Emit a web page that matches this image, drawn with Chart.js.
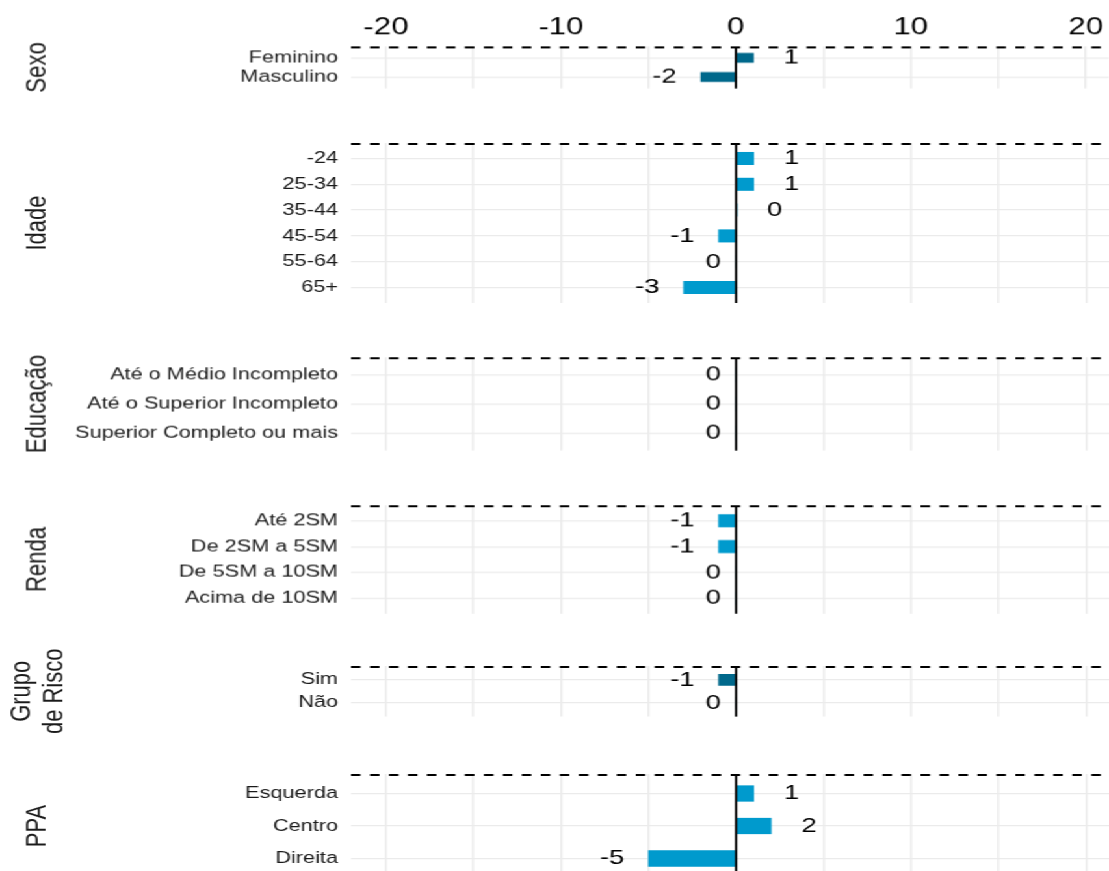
<!DOCTYPE html>
<html>
<head>
<meta charset="utf-8">
<script src="https://cdn.jsdelivr.net/npm/chart.js@4.4.1/dist/chart.umd.min.js"></script>
<style>
  html, body { margin: 0; padding: 0; background: #fff; overflow: hidden; }
  /* the reference is stretched sideways, so draw narrow and scale */
  #wrap { position: relative; width: 853px; height: 871px; transform: scaleX(1.3001); transform-origin: 0 0; }
  .panel { position: absolute; left: 0; width: 853px; }
</style>
</head>
<body>
<div id="wrap"></div>
<script>
const xTicks = [-20, -15, -10, -5, 0, 5, 10, 15, 20];

const sexoCats = ['Feminino', 'Masculino'];
const sexoVals = [1, -2];

const idadeCats = ['-24', '25-34', '35-44', '45-54', '55-64', '65+'];
const idadeVals = [1, 1, 0.04, -1, 0, -3];

const educCats = ['Até o Médio Incompleto', 'Até o Superior Incompleto', 'Superior Completo ou mais'];
const educVals = [0, 0, 0];

const rendaCats = ['Até 2SM', 'De 2SM a 5SM', 'De 5SM a 10SM', 'Acima de 10SM'];
const rendaVals = [-1, -1, 0, 0];

const riscoCats = ['Sim', 'Não'];
const riscoVals = [-1, 0];

const ppaCats = ['Esquerda', 'Centro', 'Direita'];
const ppaVals = [1, 2, -5];

const dark = '#00688B';   // deepskyblue4
const light = '#009ACD';  // deepskyblue3

const groups = [
  { title: ['Sexo'], cats: sexoCats, vals: sexoVals, color: dark },
  { title: ['Idade'], cats: idadeCats, vals: idadeVals, color: light },
  { title: ['Educação'], cats: educCats, vals: educVals, color: light },
  { title: ['Renda'], cats: rendaCats, vals: rendaVals, color: light },
  { title: ['Grupo', 'de Risco'], cats: riscoCats, vals: riscoVals, color: dark },
  { title: ['PPA'], cats: ppaCats, vals: ppaVals, color: light }
];

// panel top (px) and row spacing (px)
const layout = [
  { top: 46, step: 19 },
  { top: 143, step: 25.8 },
  { top: 357, step: 29 },
  { top: 505, step: 25.7 },
  { top: 665.5, step: 23 },
  { top: 773.5, step: 32.5 }
];

const FONT = "'Liberation Sans', Arial, sans-serif";
Chart.defaults.font.family = FONT;

// value labels, dashed top line, zero line and the facet titles
const panelExtras = {
  id: 'panelExtras',
  afterDatasetsDraw(chart, args, opts) {
    const ctx = chart.ctx;
    const a = chart.chartArea;
    const xs = chart.scales.x;
    const meta = chart.getDatasetMeta(0);
    const data = chart.data.datasets[0].data;

    ctx.save();
    // dashed line on top of the panel
    ctx.strokeStyle = '#000';
    ctx.lineWidth = 2;
    ctx.setLineDash([7.3, 7.3]);
    ctx.beginPath();
    ctx.moveTo(a.left, a.top + 1);
    ctx.lineTo(a.right, a.top + 1);
    ctx.stroke();
    ctx.setLineDash([]);

    // zero line
    const x0 = xs.getPixelForValue(0);
    ctx.lineWidth = 1.8;
    ctx.beginPath();
    ctx.moveTo(x0, a.top);
    ctx.lineTo(x0, a.bottom);
    ctx.stroke();

    // value labels
    ctx.font = '21px ' + FONT;
    ctx.fillStyle = '#000';
    ctx.textBaseline = 'middle';
    meta.data.forEach((bar, i) => {
      const v = data[i].x;
      const txt = String(Math.round(v));
      const w = ctx.measureText(txt).width;
      const px = xs.getPixelForValue(v);
      if (v > 0) {
        ctx.textAlign = 'left';
        ctx.fillText(txt, px + 2 * w, bar.y);
      } else {
        ctx.textAlign = 'right';
        ctx.fillText(txt, px - w, bar.y);
      }
    });

    // facet title, rotated
    const lines = opts.title;
    ctx.font = '22px ' + FONT;
    ctx.fillStyle = '#1a1a1a';
    ctx.textAlign = 'center';
    ctx.translate(29.3, (a.top + a.bottom) / 2);
    ctx.rotate(-Math.PI / 2);
    lines.forEach((t, k) => ctx.fillText(t, 0, (k - (lines.length - 1) / 2) * 25.3));
    ctx.restore();
  }
};

const wrap = document.getElementById('wrap');

groups.forEach((g, idx) => {
  const L = layout[idx];
  const n = g.cats.length;
  const first = idx === 0;
  const padTop = first ? 11.2 : 40;
  const padBottom = 40;
  const axisH = first ? 34.8 : 0;
  const panelH = (n + 0.2) * L.step;

  const div = document.createElement('div');
  div.className = 'panel';
  div.style.top = (first ? 0 : L.top - padTop) + 'px';
  div.style.height = (padTop + axisH + panelH + padBottom) + 'px';
  const canvas = document.createElement('canvas');
  div.appendChild(canvas);
  wrap.appendChild(div);

  new Chart(canvas, {
    type: 'bar',
    data: {
      datasets: [{
        data: g.vals.map((v, i) => ({ x: v, y: i })),
        backgroundColor: g.color,
        barThickness: L.step * 0.48
      }]
    },
    options: {
      indexAxis: 'y',
      responsive: true,
      maintainAspectRatio: false,
      animation: false,
      layout: { padding: { top: padTop, bottom: padBottom, left: 0, right: 0 } },
      plugins: {
        legend: { display: false },
        tooltip: { enabled: false },
        panelExtras: { title: g.title }
      },
      scales: {
        x: {
          type: 'linear',
          position: 'top',
          min: -22,
          max: 21.3,
          offset: false,
          afterBuildTicks: s => {
            s.ticks = xTicks.map(v => ({ value: v }));
            s.min = -22;
            s.max = 21.3;
          },
          afterFit: s => { s.height = axisH; },
          ticks: {
            display: first,
            autoSkip: false,
            maxRotation: 0,
            padding: 4.5,
            color: '#000',
            font: { size: 24 },
            callback: v => (v % 10 === 0 ? String(v) : '')
          },
          grid: { drawTicks: false, offset: false, color: '#ebebeb', lineWidth: 1.5 },
          border: { display: false }
        },
        y: {
          type: 'linear',
          reverse: true,
          offset: false,
          min: -0.6,
          max: n - 0.4,
          afterBuildTicks: s => {
            s.ticks = g.cats.map((c, i) => ({ value: i }));
            s.min = -0.6;
            s.max = n - 0.4;
          },
          afterFit: s => { s.width = 270; },
          ticks: {
            autoSkip: false,
            padding: 10,
            color: '#1a1a1a',
            font: { size: 16.7 },
            callback: v => g.cats[v]
          },
          grid: { drawTicks: false, offset: false, color: '#ebebeb', lineWidth: 1.2 },
          border: { display: false }
        }
      }
    },
    plugins: [panelExtras]
  });
});
</script>
</body>
</html>
